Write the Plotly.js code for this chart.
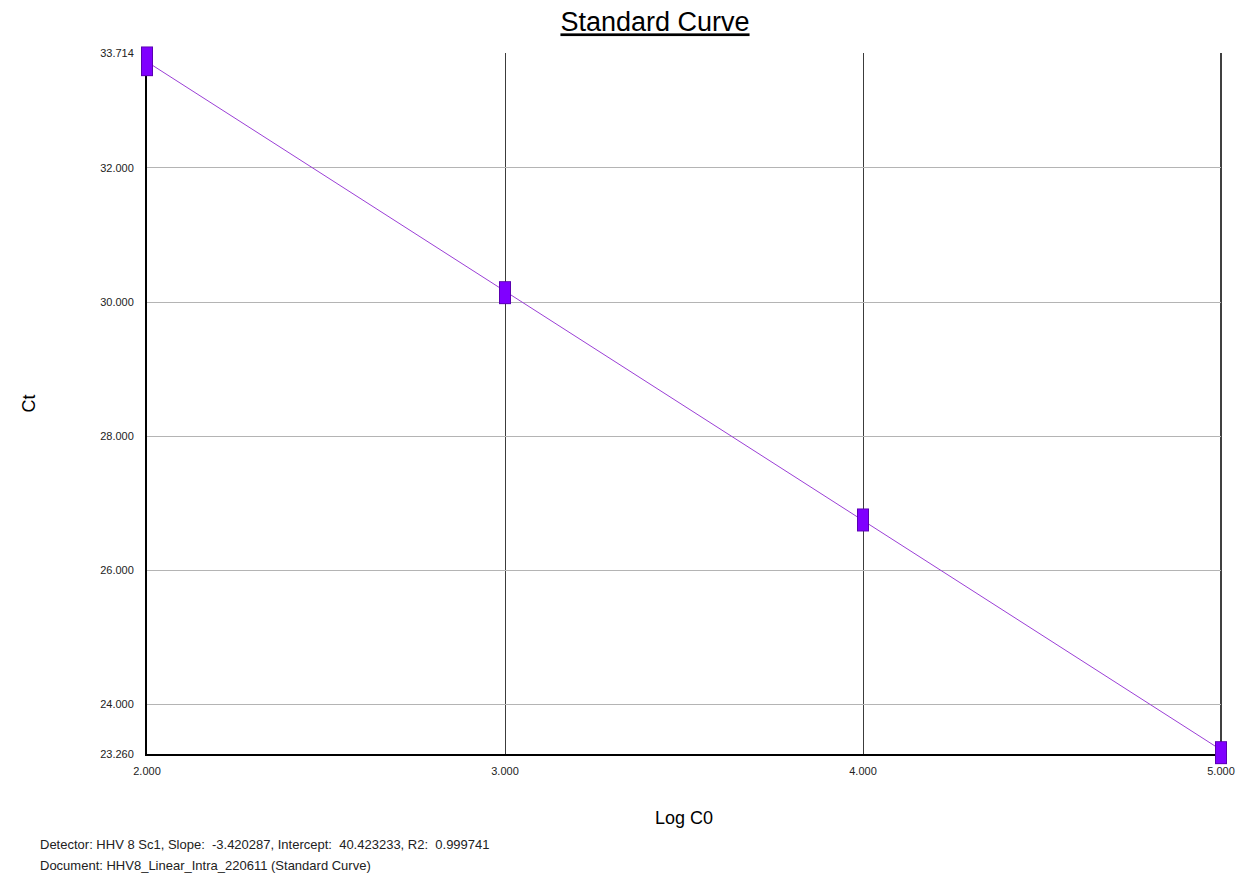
<!DOCTYPE html>
<html>
<head>
<meta charset="utf-8">
<script src="https://cdn.plot.ly/plotly-3.0.1.min.js"></script>
<style>html,body{margin:0;padding:0;background:#fff;}#chart{width:1249px;height:877px;}</style>
</head>
<body>
<div id="chart"></div>
<script>
// Data
var logC0 = [2, 2, 3, 3, 4, 4, 5, 5];
var ct = [33.66, 33.52, 30.16, 30.12, 26.77, 26.73, 23.30, 23.26];
var slope = -3.420287;
var intercept = 40.423233;
var r2 = 0.999741;
var xTickVals = [2, 3, 4, 5];
var xTickText = ['2.000', '3.000', '4.000', '5.000'];
var yTickVals = [23.260, 24, 26, 28, 30, 32, 33.714];
var yTickText = ['23.260', '24.000', '26.000', '28.000', '30.000', '32.000', '33.714'];
var detector = 'HHV 8 Sc1';
var documentName = 'HHV8_Linear_Intra_220611 (Standard Curve)';

var fitX = [Math.min.apply(null, logC0), Math.max.apply(null, logC0)];
var fitY = fitX.map(function (x) { return intercept + slope * x; });

var traces = [
  {
    x: fitX, y: fitY, mode: 'lines', type: 'scatter',
    line: {color: '#9b3fd6', width: 1}, hoverinfo: 'skip', showlegend: false, cliponaxis: false
  },
  {
    x: logC0, y: ct, mode: 'markers', type: 'scatter', showlegend: false, cliponaxis: false,
    marker: {symbol: 'line-ns', size: 14.5, line: {width: 12, color: '#5a00b0'}}
  },
  {
    x: logC0, y: ct, mode: 'markers', type: 'scatter', showlegend: false, cliponaxis: false,
    marker: {symbol: 'line-ns', size: 13.2, line: {width: 10, color: '#8000ff'}}
  }
];

var layout = {
  width: 1249, height: 877,
  paper_bgcolor: '#ffffff', plot_bgcolor: '#ffffff',
  margin: {l: 147, r: 28, t: 53, b: 123},
  font: {family: 'Arial, Liberation Sans, sans-serif', color: '#000'},
  title: {
    text: '<u>Standard Curve</u>',
    font: {size: 27, color: '#000'},
    x: 0.473, xref: 'paper', xanchor: 'center',
    y: 0.975, yref: 'container', yanchor: 'middle'
  },
  xaxis: {
    range: [2, 5], tickvals: xTickVals, ticktext: xTickText,
    showgrid: true, gridcolor: '#3c3c3c', gridwidth: 1,
    showline: true, linecolor: '#000', linewidth: 2, layer: 'below traces',
    zeroline: false, ticks: '', ticklen: 0, ticklabelstandoff: 6,
    tickfont: {size: 11, color: '#222'},
    title: {text: 'Log C0', font: {size: 18, color: '#000'}, standoff: 35}
  },
  yaxis: {
    range: [23.26, 33.714], tickvals: yTickVals, ticktext: yTickText,
    showgrid: true, gridcolor: '#b4b4b4', gridwidth: 1,
    showline: true, linecolor: '#000', linewidth: 2, layer: 'below traces',
    zeroline: false, ticks: '', ticklen: 0, ticklabelstandoff: 9,
    tickfont: {size: 11, color: '#222'},
    title: {text: 'Ct', font: {size: 18, color: '#000'}, standoff: 60}
  },
  shapes: [
    {type: 'line', xref: 'paper', yref: 'paper', x0: 1, x1: 1, y0: 0, y1: 1, line: {color: '#000', width: 1.5}, layer: 'below'}
  ],
  annotations: [
    {
      xref: 'paper', yref: 'paper', x: -0.1015, y: -0.1295, xanchor: 'left', yanchor: 'middle', align: 'left',
      showarrow: false, font: {size: 13, color: '#222'},
      text: 'Detector: ' + detector + ', Slope:  ' + slope.toFixed(6) + ', Intercept:  ' + intercept.toFixed(6) + ', R2:  ' + r2.toFixed(6)
    },
    {
      xref: 'paper', yref: 'paper', x: -0.1015, y: -0.1595, xanchor: 'left', yanchor: 'middle', align: 'left',
      showarrow: false, font: {size: 13, color: '#222'},
      text: 'Document: ' + documentName
    }
  ]
};

Plotly.newPlot('chart', traces, layout, {displayModeBar: false, staticPlot: true});
</script>
</body>
</html>
